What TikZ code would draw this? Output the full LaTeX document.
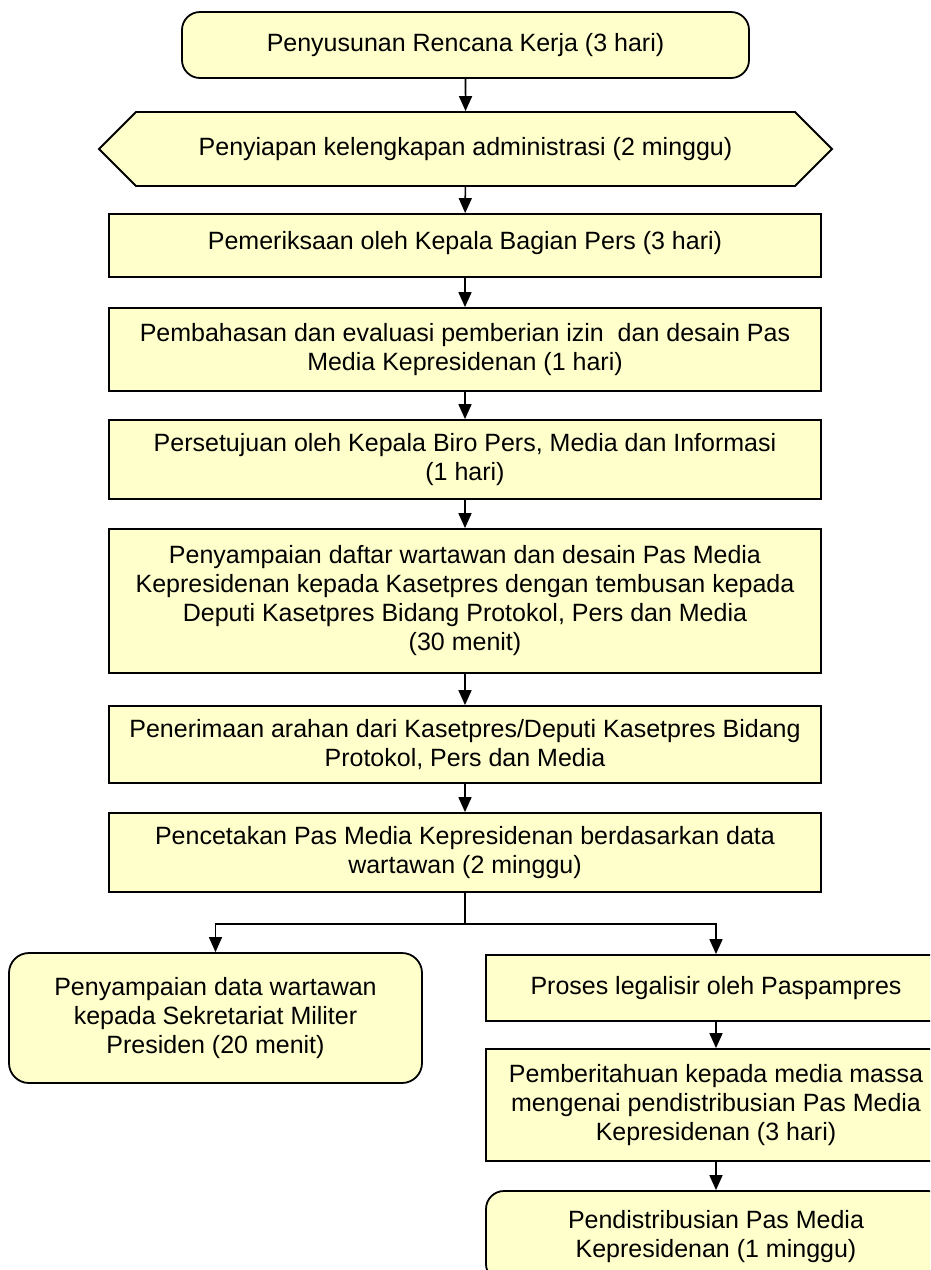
\documentclass[tikz,border=0pt]{standalone}
\usepackage{fontspec}
\setmainfont{Liberation Sans}
\usepackage{xcolor}
\usepackage{tikz}
\usetikzlibrary{
	arrows.meta,
	shapes.symbols
}
\definecolor{PaleYellow}{RGB}{255,255,204}

\begin{document}
\begin{tikzpicture}[x=1pt, y=-1pt,
		every node/.style={font=\fontsize{25}{29}\selectfont, align=center, inner sep=0pt},
		stepbox/.style={draw, line width=1.8pt, fill=PaleYellow, minimum width=712pt},
		roundbox/.style={stepbox, rounded corners=18pt},
		flow/.style={line width=1.6pt, -{Triangle[length=15pt, width=13pt]}}]
		\clip (0,0) rectangle (930,1270);
		\node[roundbox, minimum width=567pt, minimum height=66pt] (rencana) at (465.5,45) {Penyusunan Rencana Kerja (3 hari)};
		\node[draw, line width=1.8pt, fill=PaleYellow, signal, signal to=west and east, signal pointer angle=90, minimum width=733pt, minimum height=74pt] (administrasi) at (465.5,149) {Penyiapan kelengkapan administrasi (2 minggu)};
		\node[stepbox, minimum height=63pt, text height=20pt, text depth=13pt] (pemeriksaan) at (465,245.5) {Pemeriksaan oleh Kepala Bagian Pers (3 hari)};
		\node[stepbox, minimum height=83pt] (pembahasan) at (465,349.5) {Pembahasan dan evaluasi pemberian izin~ dan desain Pas\\Media Kepresidenan (1 hari)};
		\node[stepbox, minimum height=79pt] (persetujuan) at (465,459.5) {Persetujuan oleh Kepala Biro Pers, Media dan Informasi\\(1 hari)};
		\node[stepbox, minimum height=144pt] (daftar) at (465,601) {Penyampaian daftar wartawan dan desain Pas Media\\Kepresidenan kepada Kasetpres dengan tembusan kepada\\Deputi Kasetpres Bidang Protokol, Pers dan Media\\(30 menit)};
		\node[stepbox, minimum height=77pt] (arahan) at (465,744.5) {Penerimaan arahan dari Kasetpres/Deputi Kasetpres Bidang\\Protokol, Pers dan Media};
		\node[stepbox, minimum height=79pt] (pencetakan) at (465,852.5) {Pencetakan Pas Media Kepresidenan berdasarkan data\\wartawan (2 minggu)};
		\coordinate (cabang) at (465,924);
		\node[roundbox, rounded corners=20pt, minimum width=413pt, minimum height=130pt] (setmil) at (215.5,1018) {Penyampaian data wartawan\\kepada Sekretariat Militer\\Presiden (20 menit)};
		\node[stepbox, minimum width=460pt, minimum height=66pt] (legalisir) at (716,988) {Proses legalisir oleh Paspampres};
		\node[stepbox, minimum width=460pt, minimum height=112pt] (pemberitahuan) at (716,1105) {Pemberitahuan kepada media massa\\mengenai pendistribusian Pas Media\\Kepresidenan (3 hari)};
		\node[roundbox, minimum width=460pt, minimum height=91pt] (distribusi) at (716,1236.5) {Pendistribusian Pas Media\\Kepresidenan (1 minggu)};
		\draw[flow] (rencana) -- (administrasi);
		\draw[flow] (administrasi) -- (pemeriksaan);
		\draw[flow] (pemeriksaan) -- (pembahasan);
		\draw[flow] (pembahasan) -- (persetujuan);
		\draw[flow] (persetujuan) -- (daftar);
		\draw[flow] (daftar) -- (arahan);
		\draw[flow] (arahan) -- (pencetakan);
		\draw[line width=1.6pt] (pencetakan) -- (cabang);
		\draw[flow] (cabang) -| (setmil);
		\draw[flow] (cabang) -| (legalisir);
		\draw[flow] (legalisir) -- (pemberitahuan);
		\draw[flow] (pemberitahuan) -- (distribusi);
	\end{tikzpicture}
\end{document}
